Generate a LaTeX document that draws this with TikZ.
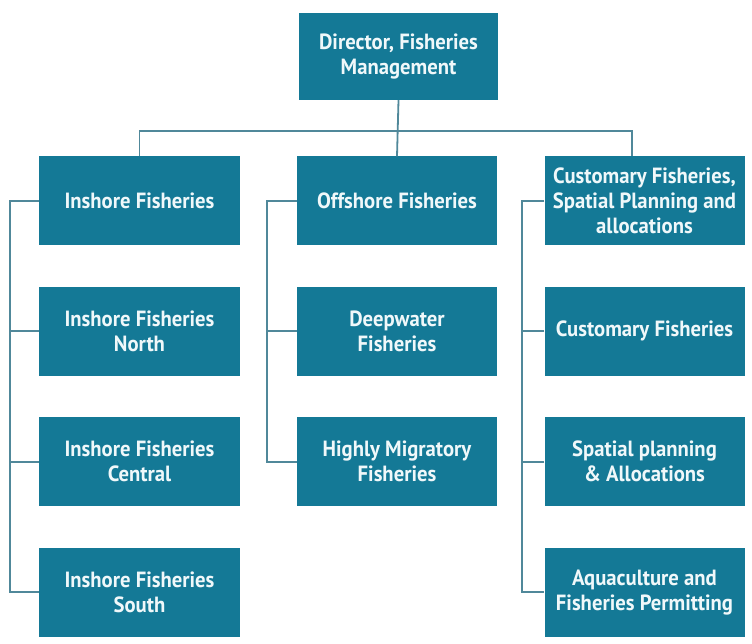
\documentclass[tikz,border=0pt]{standalone}
\usepackage{fontspec}
\usepackage{xcolor}
\usepackage{tikz}
\usetikzlibrary{positioning}
\newfontfamily\orgfont{PT Sans}[FakeStretch=0.94]
\definecolor{tl}{RGB}{20,121,150}
\definecolor{ln}{RGB}{80,136,154}
\definecolor{wt}{RGB}{240,248,250}
\tikzset{
  orgbox/.style={fill=tl,text=wt,minimum width=200bp,minimum height=89bp,inner sep=2bp,
    align=center,font=\orgfont\bfseries\fontsize{22bp}{25bp}\selectfont},
  link/.style={draw=ln,line width=1.8bp}
}

\begin{document}
\begin{tikzpicture}[x=1bp,y=1bp]
  \useasboundingbox (0,0) rectangle (752,644);

  % top box
  \node[orgbox,minimum width=199bp,minimum height=87bp] (dir) at (398.5,587.5) {Director, Fisheries\\Management};

  % first row
  \node[orgbox] (insh) at (139.5,443) {Inshore Fisheries};
  \node[orgbox] (offs) at (397,443) {Offshore Fisheries};
  \node[orgbox] (cust) at (644.5,443) {Customary Fisheries,\\Spatial Planning and\\allocations};

  % left column
  \node[orgbox,below=41bp of insh] (inN) {Inshore Fisheries\\North};
  \node[orgbox,below=41bp of inN] (inC) {Inshore Fisheries\\Central};
  \node[orgbox,below=41bp of inC] (inS) {Inshore Fisheries\\South};

  % middle column
  \node[orgbox,below=41bp of offs] (deep) {Deepwater\\Fisheries};
  \node[orgbox,below=41bp of deep] (migr) {Highly Migratory\\Fisheries};

  % right column
  \node[orgbox,below=41bp of cust] (custF) {Customary Fisheries};
  \node[orgbox,below=41bp of custF] (spat) {Spatial planning\\\& Allocations};
  \node[orgbox,below=41bp of spat] (aqua) {Aquaculture and\\Fisheries Permitting};

  % links from the top
  \coordinate (bus) at (397,513);
  \draw[link] (dir.south) -- (offs.north);
  \draw[link] (insh.north) |- (bus) -| ([xshift=-12.5bp]cust.north);

  % links in the columns
  \draw[link] (insh.west) -- ++(-29,0) |- (inS.west);
  \draw[link] (inN.west) -- ++(-29,0);
  \draw[link] (inC.west) -- ++(-29,0);

  \draw[link] (offs.west) -- ++(-30,0) |- (migr.west);
  \draw[link] (deep.west) -- ++(-30,0);

  \draw[link] (cust.west) -- ++(-22,0) |- (aqua.west);
  \draw[link] (custF.west) -- ++(-22,0);
  \draw[link] (spat.west) -- ++(-22,0);
\end{tikzpicture}
\end{document}
